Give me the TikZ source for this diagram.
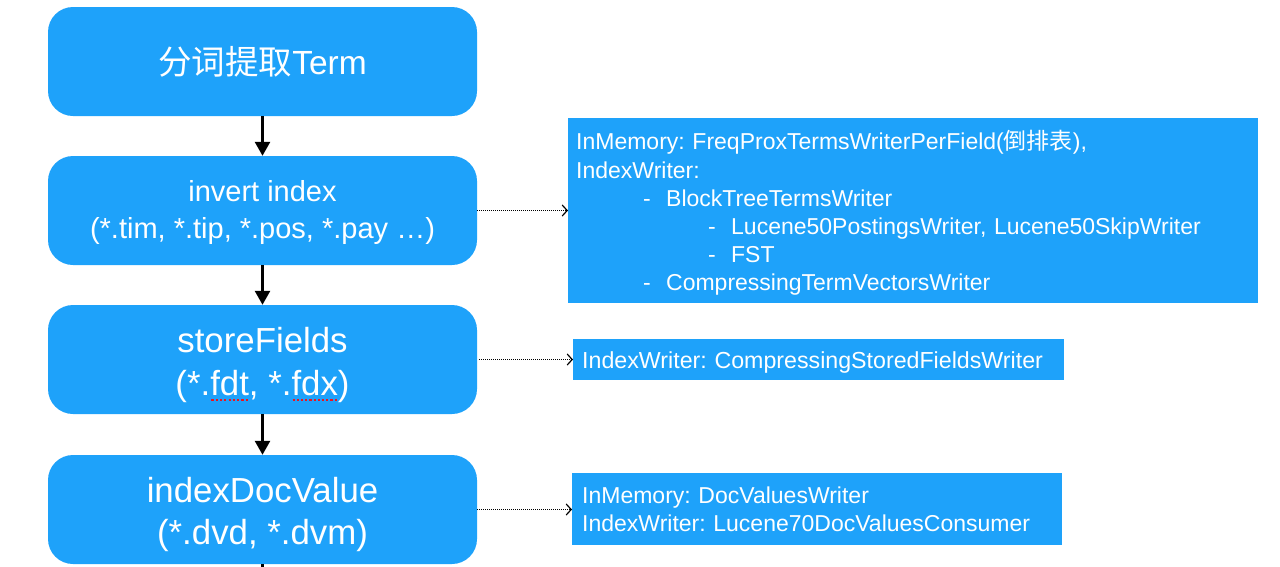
\documentclass[tikz,border=0pt]{standalone}
\usepackage{fontspec}
\setmainfont{Liberation Sans}
\newfontfamily\cjk{Noto Sans CJK SC}
\usetikzlibrary{arrows.meta}
\frenchspacing
\definecolor{kblue}{RGB}{30,162,250}
\definecolor{squig}{RGB}{235,20,30}
\newcommand\redul[1]{\setbox0\hbox{#1}\rlap{\hbox to\wd0{\xleaders\hbox to 4pt{\hss\textcolor{squig}{\rule[-5.5pt]{2.2pt}{2pt}}\hss}\hfill}}\box0}
\tikzset{
  stepbox/.style={fill=kblue, rounded corners=25pt, minimum width=429pt, minimum height=109pt, inner sep=0pt, text=white, align=center},
  infobox/.style={fill=kblue, inner sep=0pt, text=white, anchor=north west},
  flow/.style={line width=2.6pt, -{Triangle[length=14pt,width=15pt]}},
  link/.style={line width=0.9pt, dash pattern=on 1pt off 1pt, -{Straight Barb[length=5pt,width=11pt,line width=1.2pt]}}
}
\begin{document}
\begin{tikzpicture}[x=1pt,y=-1pt]
\useasboundingbox (0,0) rectangle (1280,566);
\node[stepbox, font=\fontsize{33.5}{38}\selectfont] (b1) at (262.5,61.5) {{\cjk 分词提取}Term};
\node[stepbox, font=\fontsize{29}{37}\selectfont] (b2) at (262.5,210.5) {\rule{0pt}{25pt}invert index\\(*.tim, *.tip, *.pos, *.pay …)};
\node[stepbox, font=\fontsize{34.8}{42.5}\selectfont] (b3) at (262.5,359.5) {\rule{0pt}{36pt}storeFields\\(*.\redul{fdt}, *.\redul{fdx})};
\node[stepbox, font=\fontsize{34.8}{42.5}\selectfont] (b4) at (262.5,509.5) {\rule{0pt}{35pt}indexDocValue\\(*.dvd, *.dvm)};
\coordinate (bend) at (262.5,570);

\node[infobox, minimum width=690pt, minimum height=185pt, text width=674pt, align=left, font=\fontsize{23}{28.2}\selectfont] (r1) at (568,118) {%
\rule{0pt}{24pt}InMemory: FreqProxTermsWriterPerField({\cjk 倒排表}),\\
IndexWriter:\\
\hspace*{67pt}\makebox[23pt][l]{-}BlockTreeTermsWriter\\
\hspace*{132pt}\makebox[23pt][l]{-}Lucene50PostingsWriter, Lucene50SkipWriter\\
\hspace*{132pt}\makebox[23pt][l]{-}FST\\
\hspace*{67pt}\makebox[23pt][l]{-}CompressingTermVectorsWriter};
\node[infobox, minimum width=491pt, minimum height=41pt, text width=473pt, align=left, font=\fontsize{23.2}{28}\selectfont] (r2) at (573,339) {\rule{0pt}{22pt}IndexWriter: CompressingStoredFieldsWriter};
\node[infobox, minimum width=490pt, minimum height=72pt, text width=470pt, align=left, font=\fontsize{23}{28.5}\selectfont] (r3) at (572,473) {InMemory: DocValuesWriter\\IndexWriter: Lucene70DocValuesConsumer};

\draw[flow] (b1) -- (b2);
\draw[flow] (b2) -- (b3);
\draw[flow] (b3) -- (b4);
\draw[line width=2.6pt] (b4) -- (bend);

\draw[link] (b2.east) -- (b2.east -| r1.west);
\draw[link] ([xshift=2pt]b3.east) -- (b3.east -| r2.west);
\draw[link] (b4.east) -- (b4.east -| r3.west);
\end{tikzpicture}
\end{document}
